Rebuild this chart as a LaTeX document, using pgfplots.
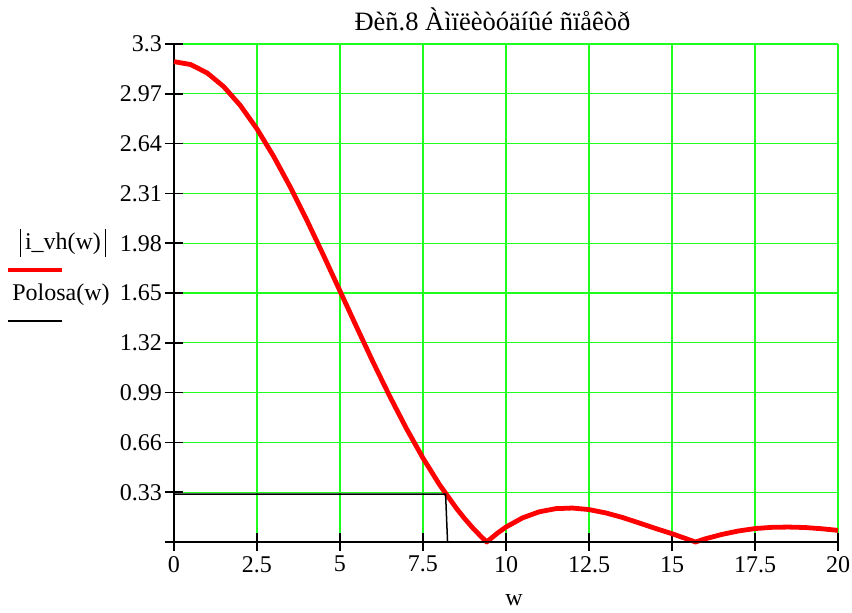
\documentclass[border=0pt]{standalone}
\usepackage{fontspec}
\setmainfont{Liberation Serif}
\usepackage{pgfplots}
\pgfplotsset{compat=1.18}
\definecolor{gridgreen}{RGB}{30,255,30}
\definecolor{curvered}{RGB}{255,0,0}
\begin{document}
\fontsize{24}{28}\selectfont
\begin{tikzpicture}
\path[use as bounding box] (-174pt,-71pt) rectangle (678pt,542pt);
\begin{axis}[
  at={(0,0)}, anchor=south west,
  scale only axis, width=664pt, height=498pt,
  xmin=0, xmax=20, ymin=0, ymax=3.3,
  axis lines=left, axis line style={-, line width=1.6pt, black},
  xtick={0,2.5,5,7.5,10,12.5,15,17.5,20},
  xticklabels={0,2.5,5,7.5,10,12.5,15,17.5,20},
  ytick={0,0.33,0.66,0.99,1.32,1.65,1.98,2.31,2.64,2.97,3.3},
  yticklabels={,0.33,0.66,0.99,1.32,1.65,1.98,2.31,2.64,2.97,3.3},
  grid=major, grid style={line width=1.3pt, gridgreen},
  tick style={black, line width=1.6pt}, tick align=center,
  major tick length=18pt,
  ticklabel style={font=\fontsize{24}{28}\selectfont},
  xticklabel style={yshift=3pt},
  yticklabel style={xshift=5pt},
  clip=false,
]
\addplot[curvered, line width=4.8pt, line join=round] coordinates {
(0,3.183) (0.5,3.164) (1,3.108) (1.5,3.017) (2,2.892) (2.5,2.737)
(3,2.556) (3.5,2.353) (4,2.133) (4.5,1.901) (5,1.663) (5.5,1.425)
(6,1.190) (6.5,0.965) (7,0.752) (7.5,0.556) (8,0.379) (8.5,0.225)
(8.75,0.156) (9,0.093) (9.25,0.036) (9.42,0) (9.5,0.015) (9.75,0.060)
(10,0.099) (10.5,0.160) (11,0.200) (11.5,0.221) (12,0.225) (12.5,0.215)
(13,0.193) (13.5,0.163) (14,0.127) (14.5,0.090) (15,0.055) (15.5,0.016)
(15.71,0) (16,0.021) (16.5,0.050) (17,0.073) (17.5,0.089) (18,0.097)
(18.5,0.099) (19,0.096) (19.5,0.088) (20,0.077)
};
\addplot[black, line width=1.5pt] coordinates {
(0,0.318) (8.18,0.318) (8.24,0) (20,0)
};
\end{axis}
\node at (318.5pt,523pt) {\fontsize{26.5}{30}\selectfont Ðèñ.8 Àìïëèòóäíûé ñïåêòð};
\node at (340pt,-58pt) {w};
\node at (-111pt,299pt) {\rule[-7pt]{1.2pt}{28pt}\,i\_vh(w)\,\rule[-7pt]{1.2pt}{28pt}};
\draw[curvered, line width=4pt] (-166pt,272pt) -- (-112pt,272pt);
\node at (-113pt,247pt) {Polosa(w)};
\draw[black, line width=1.5pt] (-166pt,221pt) -- (-112pt,221pt);
\end{tikzpicture}
\end{document}
